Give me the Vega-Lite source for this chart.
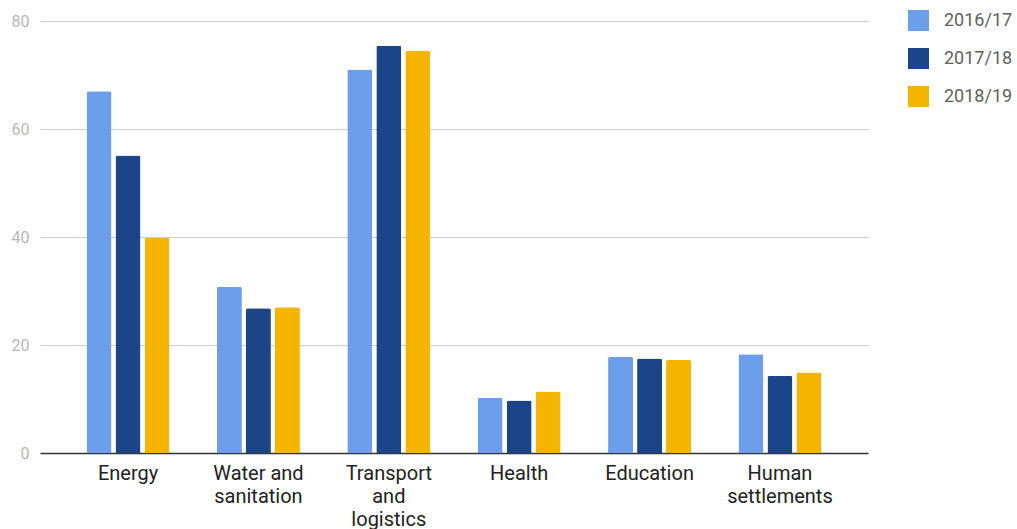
{
  "$schema": "https://vega.github.io/schema/vega-lite/v6.json",
  "autosize": "none",
  "width": 828,
  "height": 432,
  "padding": {"left": 40, "top": 21, "right": 149, "bottom": 76},
  "background": "white",
  "config": {
    "font": "Roboto",
    "view": {"stroke": null}
  },
  "data": {
    "values": [
      {"sector": "Energy", "year": "2016/17", "value": 67.0},
      {"sector": "Energy", "year": "2017/18", "value": 55.1},
      {"sector": "Energy", "year": "2018/19", "value": 39.8},
      {"sector": "Water and sanitation", "year": "2016/17", "value": 30.8},
      {"sector": "Water and sanitation", "year": "2017/18", "value": 26.8},
      {"sector": "Water and sanitation", "year": "2018/19", "value": 27.0},
      {"sector": "Transport and logistics", "year": "2016/17", "value": 71.0},
      {"sector": "Transport and logistics", "year": "2017/18", "value": 75.4},
      {"sector": "Transport and logistics", "year": "2018/19", "value": 74.5},
      {"sector": "Health", "year": "2016/17", "value": 10.2},
      {"sector": "Health", "year": "2017/18", "value": 9.7},
      {"sector": "Health", "year": "2018/19", "value": 11.4},
      {"sector": "Education", "year": "2016/17", "value": 17.8},
      {"sector": "Education", "year": "2017/18", "value": 17.5},
      {"sector": "Education", "year": "2018/19", "value": 17.2},
      {"sector": "Human settlements", "year": "2016/17", "value": 18.3},
      {"sector": "Human settlements", "year": "2017/18", "value": 14.3},
      {"sector": "Human settlements", "year": "2018/19", "value": 14.9}
    ]
  },
  "mark": {"type": "bar", "cornerRadiusTopLeft": 2, "cornerRadiusTopRight": 2},
  "encoding": {
    "x": {
      "field": "sector",
      "type": "nominal",
      "sort": null,
      "title": null,
      "scale": {"paddingInner": 0.3635, "paddingOuter": 0.357},
      "axis": {
        "labelAngle": 0,
        "labelFontSize": 20,
        "labelColor": "#222222",
        "labelPadding": 10,
        "labelLineHeight": 23,
        "labelBaseline": "top",
        "ticks": false,
        "domainColor": "#333333",
        "domainWidth": 1.5,
        "labelExpr": "datum.value == 'Water and sanitation' ? ['Water and', 'sanitation'] : datum.value == 'Transport and logistics' ? ['Transport', 'and', 'logistics'] : datum.value == 'Human settlements' ? ['Human', 'settlements'] : datum.value"
      }
    },
    "xOffset": {
      "field": "year",
      "type": "nominal",
      "scale": {"paddingInner": 0.138, "paddingOuter": 0}
    },
    "y": {
      "field": "value",
      "type": "quantitative",
      "title": null,
      "scale": {"domain": [0, 80], "nice": false},
      "axis": {
        "values": [0, 20, 40, 60, 80],
        "labelFontSize": 16,
        "labelColor": "#b7b7b7",
        "labelPadding": 11,
        "ticks": false,
        "domain": false,
        "gridColor": "#cccccc",
        "gridWidth": 1
      }
    },
    "color": {
      "field": "year",
      "type": "nominal",
      "title": null,
      "scale": {
        "domain": ["2016/17", "2017/18", "2018/19"],
        "range": ["#6d9eeb", "#1c4587", "#f4b400"]
      },
      "legend": {
        "orient": "none",
        "legendX": 868,
        "legendY": -11,
        "symbolType": "square",
        "symbolSize": 441,
        "symbolStrokeWidth": 0,
        "symbolOpacity": 1,
        "labelFontSize": 18,
        "labelColor": "#5f5f5f",
        "labelOffset": 15,
        "rowPadding": 17
      }
    }
  }
}
